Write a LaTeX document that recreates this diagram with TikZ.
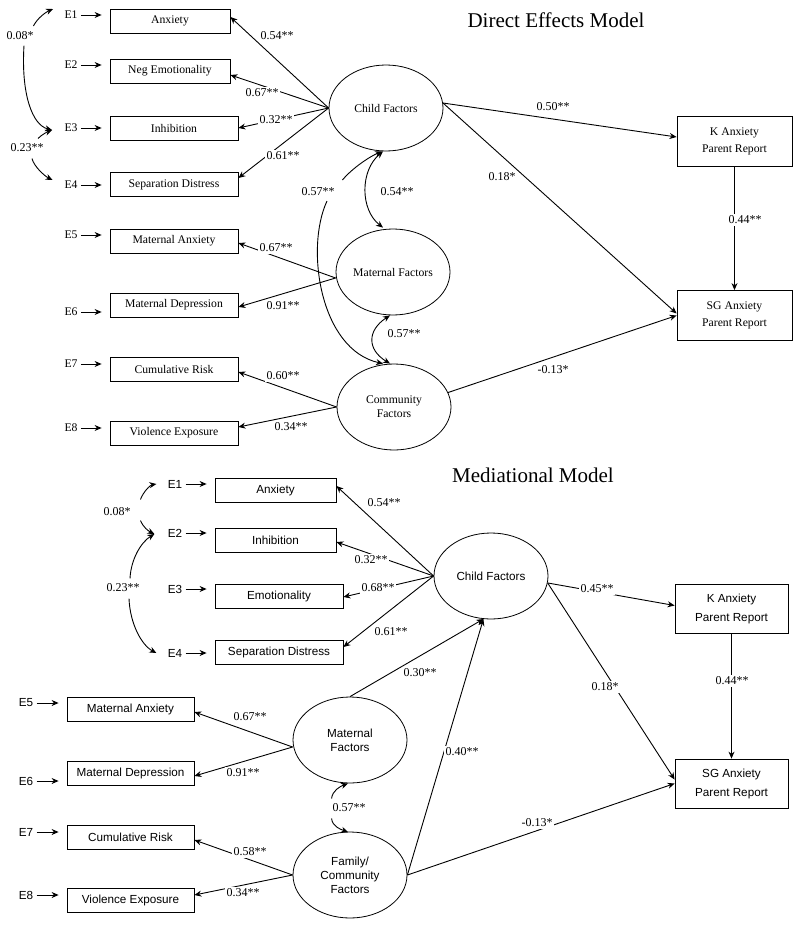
\documentclass[tikz,border=0pt]{standalone}
\usepackage{fontspec}
\setmainfont{Liberation Serif}
\setsansfont{Liberation Sans}
\usetikzlibrary{arrows.meta,calc,shapes.geometric}
\tikzset{
  ind/.style={draw, line width=0.8pt, minimum height=24pt, inner sep=0pt, font=\fontsize{11.7}{14}\selectfont},
  indB/.style={ind, font=\sffamily\fontsize{11.7}{14}\selectfont},
  lat/.style={ellipse, draw, line width=0.8pt, minimum width=114pt, minimum height=86pt, inner sep=0pt, align=center, font=\fontsize{11.7}{14}\selectfont},
  latB/.style={lat, font=\sffamily\fontsize{11.7}{14}\selectfont},
  outc/.style={draw, line width=0.8pt, minimum width=115pt, minimum height=50pt, inner sep=0pt, align=center, font=\fontsize{11.7}{17}\selectfont},
  outcB/.style={outc, minimum width=113pt, minimum height=49pt, font=\sffamily\fontsize{11.7}{19}\selectfont},
  elab/.style={inner sep=1pt, font=\fontsize{11.7}{14}\selectfont},
  elabB/.style={elab, font=\sffamily\fontsize{11.7}{14}\selectfont},
  coef/.style={fill=white, inner sep=1.5pt, font=\fontsize{12}{14}\selectfont},
  ttl/.style={font=\fontsize{21}{24}\selectfont}
}
\begin{document}
\begin{tikzpicture}[x=1pt, y=-1pt, line width=0.9pt, >={Stealth[length=7pt, width=6pt]}]
        \useasboundingbox (0,0) rectangle (800,926);
        \fill[white] (0,0) rectangle (800,926);

        % Direct Effects Model
        \node[ttl] (titleA) at (556,20) {Direct Effects Model};
        \foreach \n/\y/\w/\t/\k/\ey in {anxA/21/120/Anxiety/1/15, negA/71/120/Neg Emotionality/2/65, inhA/128/128/Inhibition/3/128, sepA/184.5/128/Separation Distress/4/185, manxA/241/128/Maternal Anxiety/5/235, mdepA/305/128/Maternal Depression/6/312, cumA/369/128/Cumulative Risk/7/364, vioA/433/128/Violence Exposure/8/428}{
        \node[ind, minimum width=\w pt] (\n) at (110+\w/2,\y) {\t};
        \node[elab] (e\k A) at (71,\ey) {E\k};
        \draw[->, shorten <=2pt, shorten >=8pt] (e\k A.east) -- (e\k A.east -| \n.west);
        }
        \node[lat] (cfA) at (386,108) {Child Factors};
        \node[lat] (mfA) at (393,272) {Maternal Factors};
        \node[lat] (cmA) at (394,407) {Community\\Factors};
        \node[outc] (kaA) at (734.5,141) {K Anxiety\\Parent Report};
        \node[outc] (sgA) at (734.5,315.5) {SG Anxiety\\Parent Report};

        \draw[->] (cfA.west) -- ($(anxA.east)+(0,-4)$);
        \draw[->] (cfA.west) -- ($(negA.east)+(0,4)$);
        \draw[->] (cfA.west) -- (inhA.east);
        \draw[->] (cfA.west) -- ($(sepA.east)+(0,-6.5)$);
        \draw[->] ($(mfA.west)+(0,6)$) -- ($(manxA.east)+(0,2)$);
        \draw[->] ($(mfA.west)+(0,6)$) -- ($(mdepA.east)+(0,2)$);
        \draw[->] (cmA.west) -- ($(cumA.east)+(0,3)$);
        \draw[->] (cmA.west) -- ($(vioA.east)+(0,-6)$);
        \draw[->] (cfA.5) -- ($(kaA.west)+(0,-4)$);
        \draw[->] (cfA.5) -- ($(sgA.west)+(0,-2)$);
        \draw[->] (kaA) -- (sgA);
        \draw[->] (cmA.15) -- (sgA.west);
        \draw[<->] ($(cfA.south)+(-3,0)$) .. controls +(-23,19) and +(-23,-18) .. ($(mfA.north)+(-10,-1)$);
        \draw[<->] ($(mfA.south)+(-3,0)$) .. controls +(-23,15) and +(-23,-14) .. ($(cmA.north)+(-4,0)$);

        \foreach \x/\y/\t [count=\i] in {277/36/0.54**, 262/93/0.67**, 276/120/0.32**, 283/156/0.61**, 276/248/0.67**, 283/306/0.91**, 283/376/0.60**, 291/427/0.34**, 553/107/0.50**, 502/177/0.18*, 745/220/0.44**, 553/370/-0.13*, 397/192/0.54**, 404/334/0.57**}
        \node[coef] (cA\i) at (\x,\y) {\t};

        \node[coef] (r57A) at (318,192) {0.57**};
        \draw[->] ($(r57A.north east)+(6,-6)$) .. controls +(10,-12) and +(-12,5) .. ($(cfA.south)+(-4,0)$);
        \draw[->] ($(r57A.south)+(9,3)$) .. controls +(-22,47) and +(-63,-14) .. ($(cmA.north)+(-11,0)$);
        \node[coef] (r08A) at (20,36) {0.08*};
        \draw[->] ($(r08A.north east)+(-2,-4)$) .. controls +(4,-8) and +(-7,3) .. ($(e1A.west)+(-10,-6)$);
        \draw[->] ($(r08A.south)+(4,3.5)$) .. controls +(-3,48) and +(-20,-5) .. ($(e3A.west)+(-11,2)$);
        \node[coef] (r23A) at (27,148) {0.23**};
        \draw[->] ($(r23A.north)+(11,-3.5)$) .. controls +(4,-4) and +(-5,2) .. ($(e3A.west)+(-11,2)$);
        \draw[->] ($(r23A.south)+(5,4.5)$) .. controls +(2,8) and +(-8,-4) .. ($(e4A.west)+(-10.5,-5)$);

        % Mediational Model
        \node[ttl] (titleB) at (533,475) {Mediational Model};
        \foreach \n/\x/\y/\w/\t/\k/\ex/\ey in {anxB/215/490/121/Anxiety/1/175/484, inhB/215/540/121/Inhibition/2/175/533, emoB/215/596/128/Emotionality/3/175/589, sepB/215/652.5/128/Separation Distress/4/175/653, manxB/67/709/127/Maternal Anxiety/5/26/703, mdepB/67/773/127/Maternal Depression/6/26/781, cumB/67/837/127/Cumulative Risk/7/26/832, vioB/67/900/127/Violence Exposure/8/26/895}{
        \node[indB, minimum width=\w pt] (\n) at (\x+\w/2,\y) {\t};
        \node[elabB] (e\k B) at (\ex,\ey) {E\k};
        \draw[->, shorten <=2pt, shorten >=8pt] (e\k B.east) -- (e\k B.east -| \n.west);
        }
        \node[latB] (cfB) at (491,576) {Child Factors};
        \node[latB] (mfB) at (350,740) {Maternal\\Factors};
        \node[latB] (fcB) at (350,875) {Family/\\Community\\Factors};
        \node[outcB] (kaB) at (731.5,608.5) {K Anxiety\\Parent Report};
        \node[outcB] (sgB) at (731.5,783.5) {SG Anxiety\\Parent Report};

        \draw[->] (cfB.west) -- ($(anxB.east)+(0,-4)$);
        \draw[->] (cfB.west) -- ($(inhB.east)+(0,2)$);
        \draw[->] (cfB.west) -- ($(emoB.east)+(0,1)$);
        \draw[->] (cfB.west) -- ($(sepB.east)+(0,-5.5)$);
        \draw[->] ($(mfB.west)+(0,7)$) -- ($(manxB.east)+(0,3)$);
        \draw[->] ($(mfB.west)+(0,7)$) -- ($(mdepB.east)+(0,3)$);
        \draw[->] (fcB.west) -- ($(cumB.east)+(0,3)$);
        \draw[->] (fcB.west) -- ($(vioB.east)+(0,-5)$);
        \draw[->] (cfB.353) -- ($(kaB.west)+(0,-3)$);
        \draw[->] (cfB.353) -- ($(sgB.west)+(0,-4)$);
        \draw[->] (kaB) -- (sgB);
        \draw[->] (mfB.north) -- (cfB.260);
        \draw[->] (fcB.east) -- (cfB.260);
        \draw[->] (fcB.east) -- (sgB.west);

        \foreach \x/\y/\t [count=\i] in {384/503/0.54**, 371/560/0.32**, 378/588/0.68**, 391/632/0.61**, 250/717/0.67**, 243/773/0.91**, 250/852/0.58**, 243/893/0.34**, 420/673/0.30**, 462/752/0.40**, 597/589/0.45**, 605/687/0.18*, 732/681/0.44**, 537/823/-0.13*}
        \node[coef] (cB\i) at (\x,\y) {\t};

        \node[coef] (r08B) at (117,512) {0.08*};
        \draw[->] ($(r08B.north east)+(8,-6.5)$) .. controls +(3,-8) and +(-6,1) .. ($(e1B.west)+(-10,0)$);
        \draw[->] ($(r08B.south east)+(8,2.5)$) .. controls +(3,7) and +(-6,-3) .. ($(e2B.west)+(-12,1)$);
        \node[coef] (r23B) at (123,588) {0.23**};
        \draw[->] ($(r23B.north)+(7,-3.5)$) .. controls +(1,-20) and +(-13,8) .. ($(e2B.west)+(-12,1)$);
        \draw[->] ($(r23B.south)+(6,4.5)$) .. controls +(1,25) and +(-15,-8) .. ($(e4B.west)+(-10,0)$);
        \node[coef] (r57B) at (349,808) {0.57**};
        \draw[->] ($(r57B.north west)+(1,-3.5)$) .. controls +(1,-8) and +(-8,3) .. ($(mfB.south)+(-2,0)$);
        \draw[->] ($(r57B.south west)+(1,4.5)$) .. controls +(1,8) and +(-8,-3) .. ($(fcB.north)+(-2,0.5)$);
\end{tikzpicture}
\end{document}
